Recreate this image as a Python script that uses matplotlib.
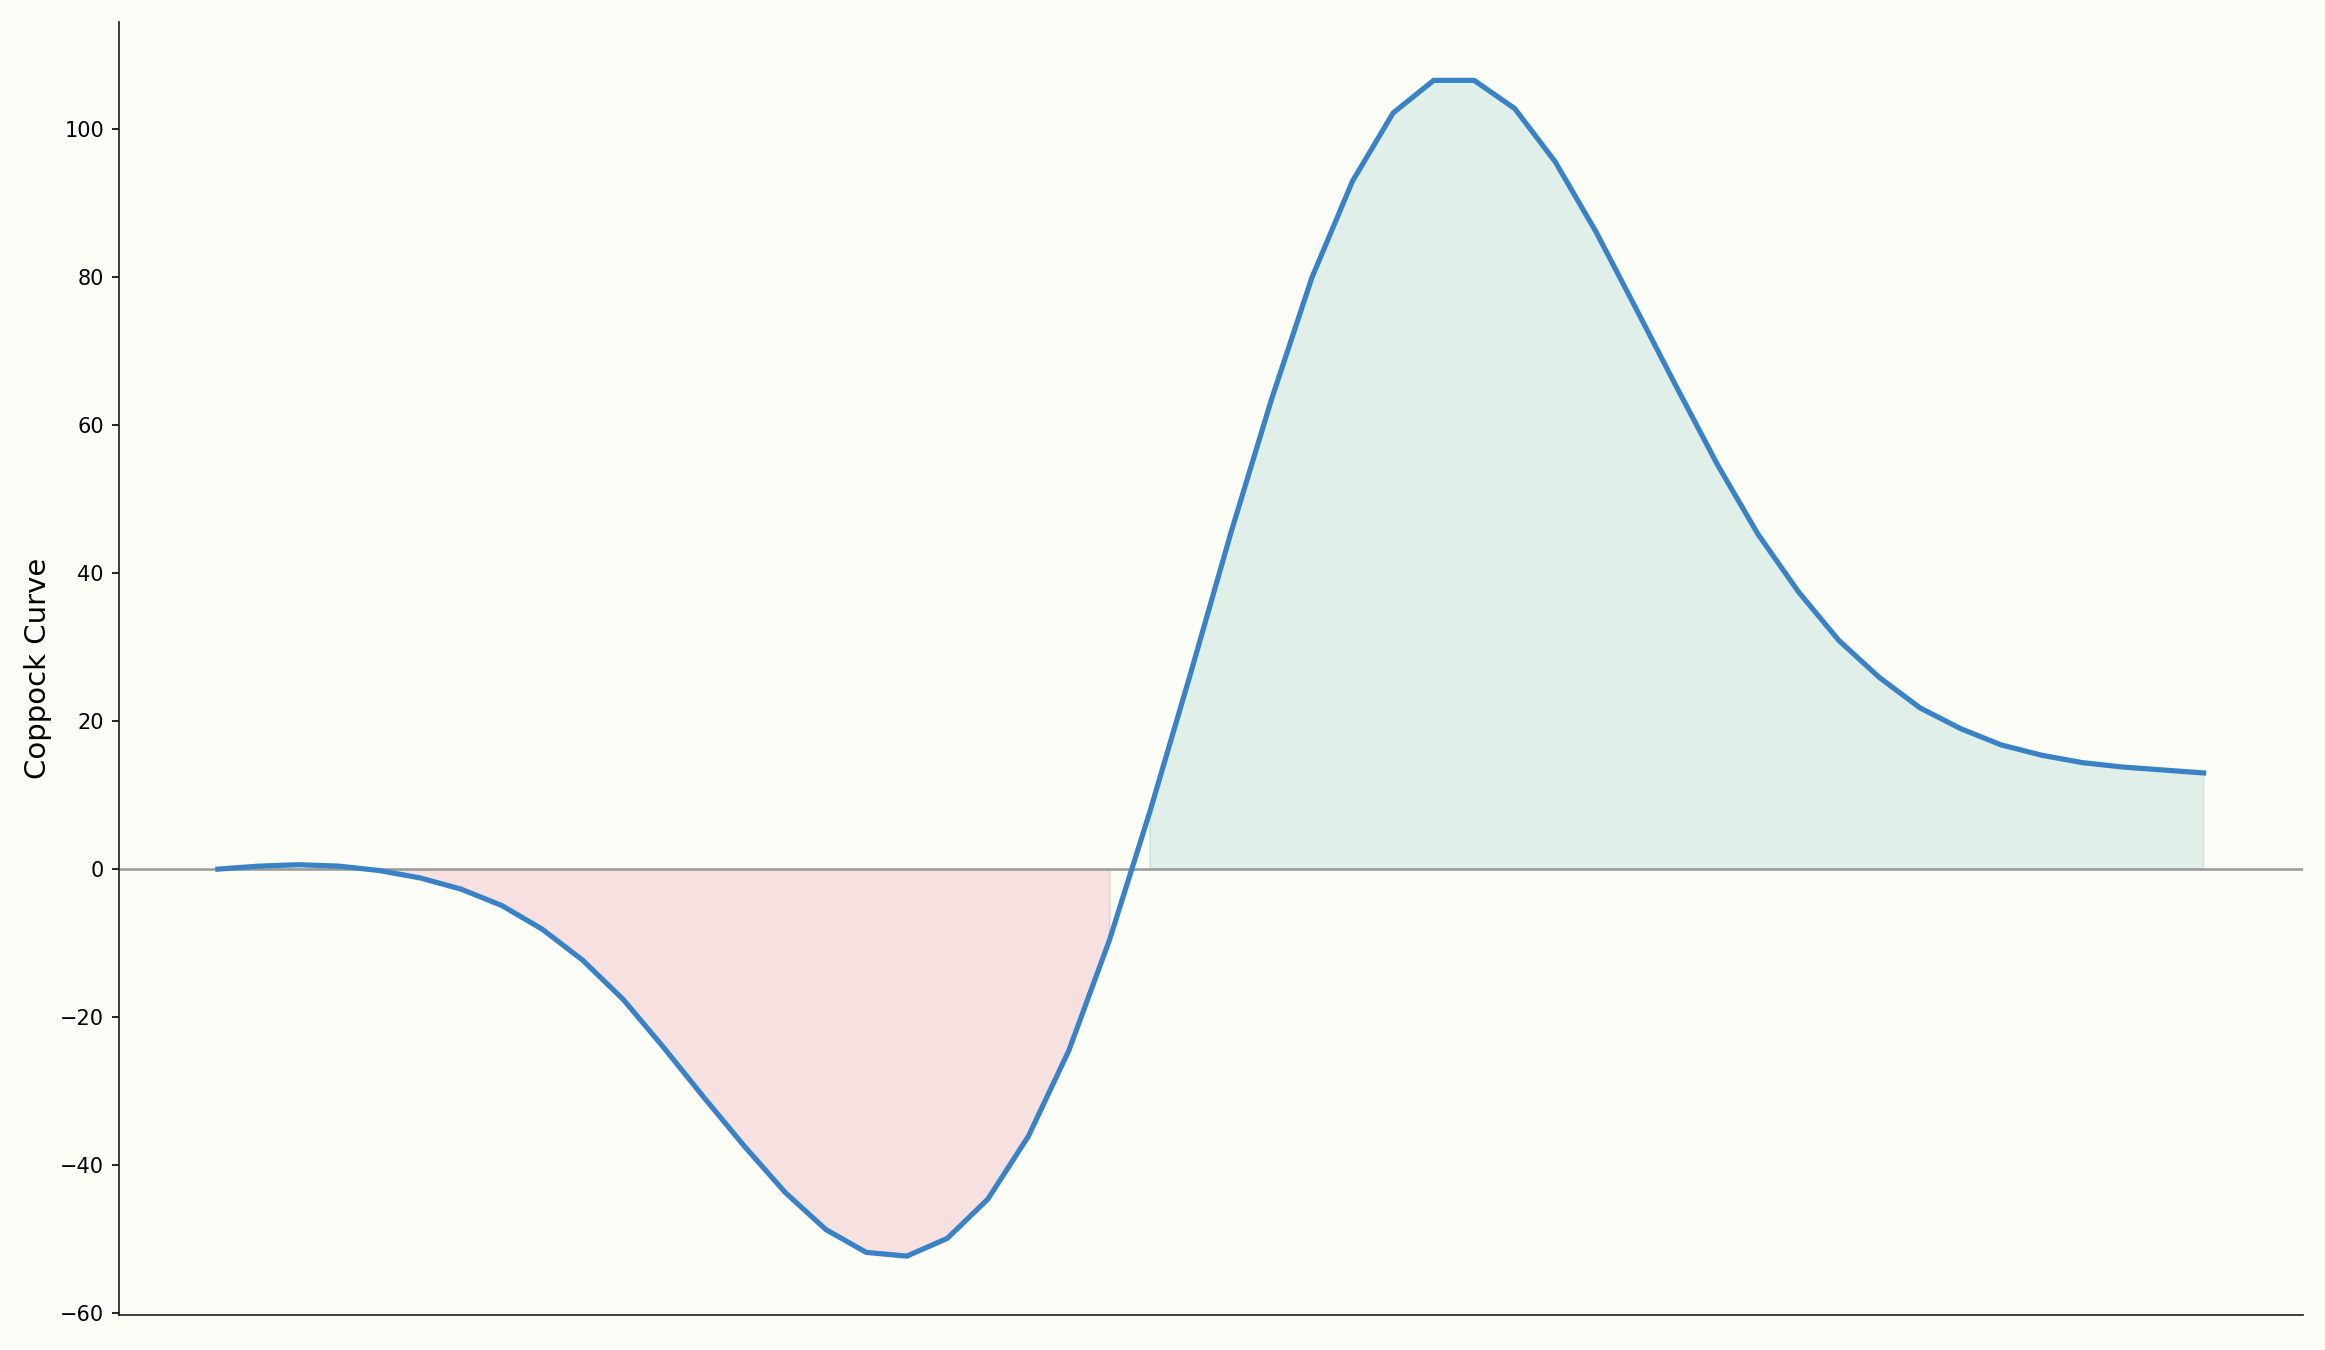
import matplotlib
matplotlib.use("Agg")
import matplotlib.pyplot as plt
import numpy as np

# Coppock curve values, one per period
period = np.arange(50)
coppock = [
    0.0, 0.4, 0.6, 0.4, -0.2, -1.2, -2.7, -4.9, -8.1, -12.3,
    -17.6, -24.1, -30.9, -37.5, -43.7, -48.7, -51.8, -52.3, -49.9, -44.6,
    -36.1, -24.5, -9.6, 7.8, 26.4, 45.5, 63.5, 80.0, 93.0, 102.2,
    106.6, 106.6, 102.8, 95.6, 86.2, 75.7, 65.1, 54.7, 45.3, 37.5,
    30.9, 25.9, 21.8, 19.0, 16.8, 15.4, 14.4, 13.8, 13.4, 13.0,
]
ylabel = "Coppock Curve"

bg = "#fdfdf8"
line_color = "#3a82c6"

y = np.array(coppock)

fig, ax = plt.subplots(figsize=(15.5, 9), dpi=150)
fig.patch.set_facecolor(bg)
ax.set_facecolor(bg)

ax.fill_between(period, y, 0, where=y >= 0, color="#3ca78d", alpha=0.15)
ax.fill_between(period, y, 0, where=y < 0, color="#d0425c", alpha=0.15)
ax.axhline(0, color="#999999", lw=1.2, zorder=1)
ax.plot(period, y, color=line_color, lw=2.5, zorder=3)

ax.set_ylabel(ylabel, fontsize=14)
ax.set_xticks([])
ax.tick_params(axis="y", labelsize=10)
for s in ["top", "right"]:
    ax.spines[s].set_visible(False)
for s in ["left", "bottom"]:
    ax.spines[s].set_color("#1a1a1a")

plt.subplots_adjust(left=0.051, right=0.9905, top=0.984, bottom=0.026)
fig.savefig("out.png", dpi=150, facecolor=bg)
